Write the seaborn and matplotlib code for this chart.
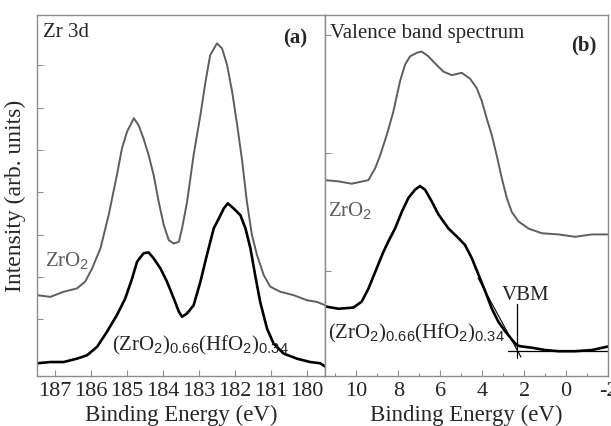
import matplotlib
matplotlib.use("Agg")
import matplotlib.pyplot as plt
import seaborn as sns
import pandas as pd

# Zr 3d core level (panel a), binding energy in eV, intensity in arb. units
zr3d_energy_zro2 = [187.5, 187.13, 186.76, 186.39, 186.16, 185.97, 185.74, 185.51, 185.28,
                    185.14, 185.0, 184.81, 184.68, 184.54, 184.40, 184.26, 184.12, 183.98,
                    183.84, 183.70, 183.56, 183.47, 183.33, 183.15, 182.96, 182.82, 182.69,
                    182.50, 182.36, 182.22, 182.08, 181.94, 181.81, 181.67, 181.53, 181.39,
                    181.20, 181.02, 180.74, 180.37, 180.0, 179.72, 179.49]
zr3d_int_zro2 = [0.57, 0.53, 0.65, 0.73, 0.89, 1.20, 1.67, 2.46, 3.41,
                 4.04, 4.43, 4.75, 4.59, 4.27, 3.88, 3.41, 2.78, 2.23,
                 1.87, 1.79, 1.83, 2.15, 2.78, 3.88, 4.83, 5.61, 6.24,
                 6.52, 6.40, 6.01, 5.38, 4.59, 3.80, 2.78, 1.99, 1.52,
                 1.04, 0.77, 0.65, 0.57, 0.45, 0.41, 0.33]

zr3d_energy_mix = [187.5, 187.13, 186.76, 186.39, 186.11, 185.83, 185.56, 185.28, 185.05,
                   184.86, 184.72, 184.54, 184.40, 184.26, 184.07, 183.89, 183.70, 183.56,
                   183.47, 183.33, 183.15, 182.96, 182.78, 182.59, 182.45, 182.31, 182.20,
                   182.04, 181.85, 181.71, 181.57, 181.44, 181.30, 181.11, 180.93, 180.65,
                   180.28, 179.91, 179.63, 179.49]
zr3d_int_mix = [-1.04, -1.01, -1.01, -0.93, -0.85, -0.65, -0.30, 0.10, 0.49,
                0.96, 1.36, 1.56, 1.58, 1.44, 1.20, 0.89, 0.49, 0.18,
                0.06, 0.14, 0.33, 0.89, 1.52, 2.15, 2.38, 2.62, 2.74,
                2.62, 2.46, 2.15, 1.67, 1.04, 0.41, -0.22, -0.57, -0.81,
                -0.93, -1.01, -1.04, -1.12]

# valence band (panel b)
vb_energy_zro2 = [11.5, 10.86, 10.23, 9.43, 9.11, 8.87, 8.56, 8.24, 7.92, 7.68, 7.44,
                  7.12, 6.89, 6.57, 6.25, 5.85, 5.45, 4.98, 4.58, 4.26, 4.02, 3.78,
                  3.54, 3.31, 3.07, 2.83, 2.59, 2.27, 1.79, 1.16, 0.36, -0.43,
                  -1.23, -2.0]
vb_int_zro2 = [0.77, 0.76, 0.74, 0.77, 0.87, 0.98, 1.15, 1.35, 1.61, 1.75, 1.82,
               1.85, 1.86, 1.82, 1.76, 1.69, 1.66, 1.68, 1.63, 1.55, 1.44, 1.29,
               1.15, 0.98, 0.79, 0.62, 0.50, 0.42, 0.36, 0.32, 0.31, 0.29,
               0.31, 0.31]

vb_energy_mix = [11.5, 10.86, 10.15, 9.75, 9.43, 9.11, 8.72, 8.48, 8.16, 7.84, 7.52,
                 7.20, 6.97, 6.73, 6.41, 6.09, 5.61, 5.14, 4.82, 4.50, 4.18, 3.86,
                 3.54, 3.23, 2.91, 2.59, 2.35, 2.11, 1.64, 1.00, 0.36, -0.43,
                 -1.23, -2.0]
vb_int_mix = [-0.30, -0.32, -0.31, -0.26, -0.15, -0.01, 0.16, 0.25, 0.36, 0.50, 0.62,
              0.69, 0.72, 0.69, 0.59, 0.48, 0.36, 0.28, 0.22, 0.11, -0.03, -0.17,
              -0.32, -0.43, -0.51, -0.58, -0.63, -0.64, -0.65, -0.67, -0.68, -0.68,
              -0.67, -0.64]

# VBM construction lines
vbm_marker_e = [2.35, 2.35]
vbm_marker_i = [-0.28, -0.74]
vbm_base_e = [2.78, -2.0]
vbm_base_i = [-0.68, -0.68]
vbm_tangent_e = [4.2, 2.15]
vbm_tangent_i = [-0.06, -0.73]

x_ticks_a = [187, 186, 185, 184, 183, 182, 181, 180]
x_ticks_b = [10, 8, 6, 4, 2, 0, -2]
x_minor_b = [11, 9, 7, 5, 3, 1, -1]
y_ticks_a = [0, 1, 2, 3, 4, 5, 6]
y_ticks_b = [0, 1, 2]

sns.set_theme(style="ticks")
plt.rcParams['font.family'] = ['Liberation Serif', 'DejaVu Serif']
plt.rcParams['mathtext.fontset'] = 'custom'
plt.rcParams['mathtext.rm'] = 'Liberation Sans'
plt.rcParams['mathtext.it'] = 'Liberation Sans'
plt.rcParams['axes.unicode_minus'] = False

GRAY = '#5e5e5e'
SPINE = '#8c8c8c'

fig = plt.figure(figsize=(6.11, 4.26), dpi=100)
ax_a = fig.add_axes([37 / 611, 50 / 426, 288 / 611, 361 / 426])
ax_b = fig.add_axes([325 / 611, 50 / 426, 283 / 611, 361 / 426])

df_a = pd.concat([
    pd.DataFrame({'E': zr3d_energy_zro2, 'I': zr3d_int_zro2, 'sample': 'ZrO2'}),
    pd.DataFrame({'E': zr3d_energy_mix, 'I': zr3d_int_mix, 'sample': 'mix'}),
])
df_b = pd.concat([
    pd.DataFrame({'E': vb_energy_zro2, 'I': vb_int_zro2, 'sample': 'ZrO2'}),
    pd.DataFrame({'E': vb_energy_mix, 'I': vb_int_mix, 'sample': 'mix'}),
])

for ax, df in [(ax_a, df_a), (ax_b, df_b)]:
    sns.lineplot(data=df[df['sample'] == 'ZrO2'], x='E', y='I', color=GRAY, lw=1.4, ax=ax)
    sns.lineplot(data=df[df['sample'] == 'mix'], x='E', y='I', color='black', lw=1.9, ax=ax)

# VBM lines
ax_b.plot(vbm_marker_e, vbm_marker_i, color='black', lw=0.9)
ax_b.plot(vbm_base_e, vbm_base_i, color='black', lw=0.9)
ax_b.plot(vbm_tangent_e, vbm_tangent_i, color='black', lw=0.8)

ax_a.set_xlim(187.5, 179.5)
ax_a.set_ylim(-1.34, 7.19)
ax_b.set_xlim(11.5, -2.0)
ax_b.set_ylim(-0.89, 2.17)

ax_a.set_xticks(x_ticks_a)
ax_a.set_xticklabels([str(t) for t in x_ticks_a])
ax_b.set_xticks(x_ticks_b)
ax_b.set_xticklabels([str(t) for t in x_ticks_b])
ax_b.set_xticks(x_minor_b, minor=True)
ax_a.set_yticks(y_ticks_a)
ax_b.set_yticks(y_ticks_b)

for ax in (ax_a, ax_b):
    ax.set_yticklabels([])
    ax.tick_params(axis='both', which='major', direction='in', length=4, width=0.8,
                   color=SPINE, labelsize=16, pad=4)
    ax.tick_params(axis='x', which='minor', direction='in', length=2.5, width=0.8, color=SPINE)
    ax.tick_params(axis='y', left=True, right=False)
    ax.tick_params(axis='x', bottom=True, top=False)
    for s in ax.spines.values():
        s.set_visible(True)
        s.set_color(SPINE)
        s.set_linewidth(1.0)
    ax.set_xlabel('Binding Energy (eV)', fontsize=16.5, labelpad=3)
    ax.set_ylabel('')

ax_a.set_ylabel('Intensity (arb. units)', fontsize=17, labelpad=4)

# annotations panel (a)
ax_a.text(0.02, 0.939, 'Zr 3d', transform=ax_a.transAxes, fontsize=15, va='baseline')
ax_a.text(0.937, 0.922, '(a)', transform=ax_a.transAxes, fontsize=15, fontweight='bold',
          ha='right', va='baseline')
ax_a.text(0.028, 0.302, r'ZrO$_2$', transform=ax_a.transAxes, fontsize=15, color=GRAY,
          va='baseline')
ax_a.text(0.26, 0.072, r'(ZrO$_2$)$_{0.66}$(HfO$_2$)$_{0.34}$', transform=ax_a.transAxes,
          fontsize=15, va='baseline')

# annotations panel (b)
ax_b.text(0.018, 0.936, 'Valence band spectrum', transform=ax_b.transAxes, fontsize=15,
          va='baseline')
ax_b.text(0.961, 0.903, '(b)', transform=ax_b.transAxes, fontsize=15, fontweight='bold',
          ha='right', va='baseline')
ax_b.text(0.011, 0.44, r'ZrO$_2$', transform=ax_b.transAxes, fontsize=15, color=GRAY,
          va='baseline')
ax_b.text(0.011, 0.105, r'(ZrO$_2$)$_{0.66}$(HfO$_2$)$_{0.34}$', transform=ax_b.transAxes,
          fontsize=15, va='baseline')
ax_b.text(0.707, 0.21, 'VBM', transform=ax_b.transAxes, fontsize=15, ha='center',
          va='baseline')

fig.savefig('out.png', dpi=100)
